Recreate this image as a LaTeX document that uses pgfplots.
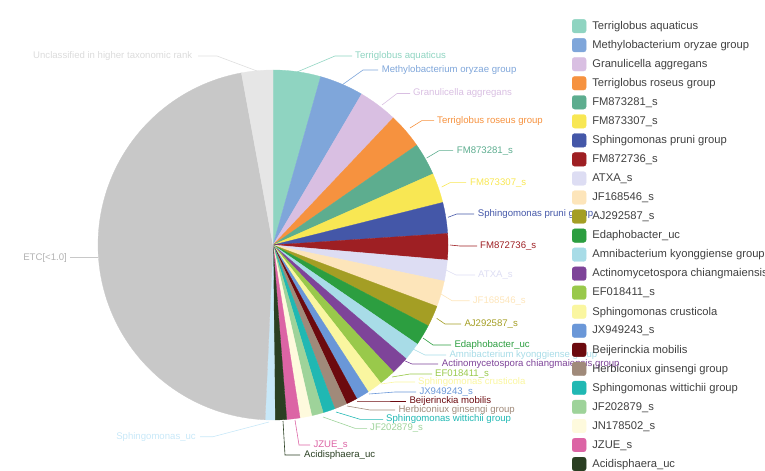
\documentclass[border=0pt]{standalone}
\usepackage{pgfplots}
\pgfplotsset{compat=1.18}
\usepackage{pgfplotstable}
\usepackage{fontspec}
\setmainfont{Liberation Sans}

\definecolor{c1}{HTML}{8FD4C1}
\definecolor{c2}{HTML}{7FA6DA}
\definecolor{c3}{HTML}{D9BFE2}
\definecolor{c4}{HTML}{F6923F}
\definecolor{c5}{HTML}{5DAD8F}
\definecolor{c6}{HTML}{F8E753}
\definecolor{c7}{HTML}{4457A8}
\definecolor{c8}{HTML}{9E1F23}
\definecolor{c9}{HTML}{DDDDF3}
\definecolor{c10}{HTML}{FDE5BA}
\definecolor{c11}{HTML}{A49E24}
\definecolor{c12}{HTML}{2C9E40}
\definecolor{c13}{HTML}{A8DCE7}
\definecolor{c14}{HTML}{7E4499}
\definecolor{c15}{HTML}{99C94B}
\definecolor{c16}{HTML}{FAF6A0}
\definecolor{c17}{HTML}{6A97D8}
\definecolor{c18}{HTML}{6C0A0F}
\definecolor{c19}{HTML}{A08A7A}
\definecolor{c20}{HTML}{20B8B3}
\definecolor{c21}{HTML}{9ED39A}
\definecolor{c22}{HTML}{FEFADD}
\definecolor{c23}{HTML}{DC64A5}
\definecolor{c24}{HTML}{2A3F22}
\definecolor{c25}{HTML}{C8E8F8}
\definecolor{c26}{HTML}{C8C8C8}
\definecolor{c27}{HTML}{E6E6E6}
\definecolor{legtext}{HTML}{404040}

% share of each slice in percent, clockwise from 12 o'clock
\pgfplotstableread[col sep=comma]{
name,col,val
Terriglobus aquaticus,c1,4.39
Methylobacterium oryzae group,c2,4.06
Granulicella aggregans,c3,3.61
Terriglobus roseus group,c4,3.28
FM873281_s,c5,3.00
FM873307_s,c6,2.75
Sphingomonas pruni group,c7,2.86
FM872736_s,c8,2.42
ATXA_s,c9,1.94
JF168546_s,c10,2.39
AJ292587_s,c11,1.94
Edaphobacter_uc,c12,1.94
Amnibacterium kyonggiense group,c13,1.67
Actinomycetospora chiangmaiensis group,c14,1.67
EF018411_s,c15,1.53
Sphingomonas crusticola,c16,1.39
JX949243_s,c17,1.22
Beijerinckia mobilis,c18,1.03
Herbiconiux ginsengi group,c19,1.17
Sphingomonas wittichii group,c20,1.11
JF202879_s,c21,1.08
JN178502_s,c22,1.08
JZUE_s,c23,1.22
Acidisphaera_uc,c24,1.07
Sphingomonas_uc,c25,0.90
ETC[<1.0],c26,46.39
Unclassified in higher taxonomic rank,c27,2.89
}\piedata

\newcommand{\lblfont}{\fontsize{9.6bp}{11bp}\selectfont}

\begin{document}
\begin{tikzpicture}
\path[use as bounding box, clip] (0,0) rectangle (765bp,471bp);
\begin{axis}[
  at={(0,0)}, anchor=south west,
  width=765bp, height=471bp, scale only axis,
  xmin=0, xmax=765, ymin=0, ymax=471, y dir=reverse,
  hide axis, clip=false,
  legend entries={Terriglobus aquaticus,Methylobacterium oryzae group,Granulicella aggregans,Terriglobus roseus group,FM873281\_s,FM873307\_s,Sphingomonas pruni group,FM872736\_s,ATXA\_s,JF168546\_s,AJ292587\_s,Edaphobacter\_uc,Amnibacterium kyonggiense group,Actinomycetospora chiangmaiensis group,EF018411\_s,Sphingomonas crusticola,JX949243\_s,Beijerinckia mobilis,Herbiconiux ginsengi group,Sphingomonas wittichii group,JF202879\_s,JN178502\_s,JZUE\_s,Acidisphaera\_uc},
  legend cell align=left,
  legend image code/.code={\fill[rounded corners=2.5bp] (0bp,-6.8bp) rectangle (14bp,6.8bp);},
  legend style={at={(axis cs:572,19.2)}, anchor=north west, draw=none, fill=none,
    inner sep=0pt, outer sep=0pt, row sep=5.14bp, column sep=6bp,
    font=\fontsize{11.2bp}{13bp}\selectfont, text=legtext,
    nodes={inner sep=0pt, outer sep=0pt}},
]
\def\cum{0}
\pgfplotsforeachungrouped \i in {0,...,26}{%
  \pgfplotstablegetelem{\i}{val}\of\piedata
  \let\v\pgfplotsretval
  \pgfplotstablegetelem{\i}{col}\of\piedata
  \let\c\pgfplotsretval
  \pgfmathsetmacro\a{\cum*3.6}%
  \pgfmathsetmacro\cumnew{\cum+\v}%
  \pgfmathsetmacro\b{\cumnew*3.6}%
  \global\let\cum\cumnew
  \ifnum\i>23 \def\fp{,forget plot}\else\def\fp{}\fi
  \edef\temp{\noexpand\addplot[fill=\c, draw=\c, line width=0.3pt, domain=\a:\b, samples=90, variable=\noexpand\t\fp]
    ({273+175*sin(\noexpand\t)},{245-175*cos(\noexpand\t)}) -- (axis cs:273,245) -- cycle;}%
  \temp
}

% leader lines
\addplot[c1, line width=0.6pt, forget plot] coordinates {(297,72) (335,56) (352,56)};
\addplot[c2, line width=0.6pt, forget plot] coordinates {(342,85) (363,70) (378,70)};
\addplot[c3, line width=0.6pt, forget plot] coordinates {(382,105) (397,93.5) (410,93.5)};
\addplot[c4, line width=0.6pt, forget plot] coordinates {(410,128) (421.7,120.7) (434,120.7)};
\addplot[c5, line width=0.6pt, forget plot] coordinates {(426.7,158) (439,150.7) (453,150.7)};
\addplot[c6, line width=0.6pt, forget plot] coordinates {(441.7,187) (450,182.7) (466,182.7)};
\addplot[c7, line width=0.6pt, forget plot] coordinates {(448,217.3) (456.7,214) (474,214)};
\addplot[c8, line width=0.6pt, forget plot] coordinates {(450,245) (460,246) (477,246)};
\addplot[c9, line width=0.6pt, forget plot] coordinates {(446,270) (456,275) (475,275)};
\addplot[c10, line width=0.6pt, forget plot] coordinates {(441,294) (452,300.7) (469.7,300.7)};
\addplot[c11, line width=0.6pt, forget plot] coordinates {(436.7,318.3) (445,324) (461,324)};
\addplot[c12, line width=0.6pt, forget plot] coordinates {(423,338) (433,345) (451,345)};
\addplot[c13, line width=0.6pt, forget plot] coordinates {(413,349) (425,355) (446,355)};
\addplot[c14, line width=0.6pt, forget plot] coordinates {(403,360) (412,364) (438,364)};
\addplot[c15, line width=0.6pt, forget plot] coordinates {(392,377) (410,374) (432,374)};
\addplot[c16, line width=0.6pt, forget plot] coordinates {(381,384) (395,382) (415,382)};
\addplot[c17, line width=0.6pt, forget plot] coordinates {(369,394) (395,392) (416,392)};
\addplot[c18, line width=0.6pt, forget plot] coordinates {(357,401) (375,401) (406,401)};
\addplot[c19, line width=0.6pt, forget plot] coordinates {(347,406) (370,410) (395,410)};
\addplot[c20, line width=0.6pt, forget plot] coordinates {(336,412) (360,419.3) (383,419.3)};
\addplot[c21, line width=0.6pt, forget plot] coordinates {(323,417) (355,428.3) (367,428.3)};
\addplot[c23, line width=0.6pt, forget plot] coordinates {(295,420) (299,445) (310,445)};
\addplot[c24, line width=0.6pt, forget plot] coordinates {(283,421) (285,455) (300,455)};
\addplot[c25, line width=0.6pt, forget plot] coordinates {(269,422) (213,436.7) (200,436.7)};
\addplot[c26, line width=0.6pt, forget plot] coordinates {(98,257.5) (70,257.5)};
\addplot[c27!85!black!20!c27, line width=0.6pt, forget plot] coordinates {(257,71) (217,56) (198,56)};

% slice labels
\tikzset{lbl/.style={anchor=west, inner sep=0pt, text height=7.2bp, text depth=2.2bp, font=\lblfont}}
\node[lbl, text=c1] at (axis cs:355,56) {Terriglobus aquaticus};
\node[lbl, text=c2] at (axis cs:381.7,70) {Methylobacterium oryzae group};
\node[lbl, text=c3] at (axis cs:413,93.5) {Granulicella aggregans};
\node[lbl, text=c4] at (axis cs:437,120.7) {Terriglobus roseus group};
\node[lbl, text=c5] at (axis cs:456.7,150.7) {FM873281\_s};
\node[lbl, text=c6] at (axis cs:470,182.7) {FM873307\_s};
\node[lbl, text=c7] at (axis cs:477.7,214) {Sphingomonas pruni group};
\node[lbl, text=c8] at (axis cs:480,246) {FM872736\_s};
\node[lbl, text=c9] at (axis cs:478,275) {ATXA\_s};
\node[lbl, text=c10] at (axis cs:472.7,300.7) {JF168546\_s};
\node[lbl, text=c11] at (axis cs:464.3,324) {AJ292587\_s};
\node[lbl, text=c12] at (axis cs:454.3,345) {Edaphobacter\_uc};
\node[lbl, text=c13] at (axis cs:449.3,355) {Amnibacterium kyonggiense group};
\node[lbl, text=c14] at (axis cs:441.7,364) {Actinomycetospora chiangmaiensis group};
\node[lbl, text=c15] at (axis cs:435,374) {EF018411\_s};
\node[lbl, text=c16] at (axis cs:418,382) {Sphingomonas crusticola};
\node[lbl, text=c17] at (axis cs:419.3,392) {JX949243\_s};
\node[lbl, text=c18] at (axis cs:409.3,401) {Beijerinckia mobilis};
\node[lbl, text=c19] at (axis cs:398.3,410) {Herbiconiux ginsengi group};
\node[lbl, text=c20] at (axis cs:386,419.3) {Sphingomonas wittichii group};
\node[lbl, text=c21] at (axis cs:370,428.3) {JF202879\_s};
\node[lbl, text=c23] at (axis cs:313.3,445) {JZUE\_s};
\node[lbl, text=c24] at (axis cs:304,455) {Acidisphaera\_uc};
\node[lbl, anchor=east, text=c25] at (axis cs:196,436.7) {Sphingomonas\_uc};
\node[lbl, anchor=east, text=black!30] at (axis cs:67,257.5) {ETC[<1.0]};
\node[lbl, text=black!14] at (axis cs:33,55.7) {Unclassified in higher taxonomic rank};
\end{axis}
\end{tikzpicture}
\end{document}
